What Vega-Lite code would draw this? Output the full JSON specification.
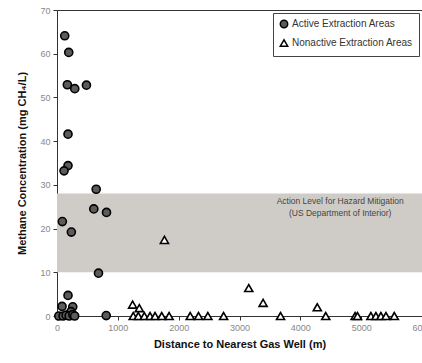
{
  "$schema": "https://vega.github.io/schema/vega-lite/v6.json",
  "width": 365,
  "height": 306,
  "autosize": {"type": "none"},
  "padding": {"left": 57, "top": 10, "right": 0, "bottom": 47},
  "background": "white",
  "config": {
    "font": "Liberation Sans",
    "view": {"stroke": "#333", "strokeWidth": 1},
    "axis": {"grid": false, "domainColor": "#333", "tickColor": "#333", "labelColor": "#888", "labelFontSize": 9, "titleFontSize": 11, "titleFontWeight": "bold", "titleColor": "#111"}
  },
  "datasets": {
    "pts": [
      {"d": 127, "c": 64.1, "t": "Active Extraction Areas"},
      {"d": 193, "c": 60.3, "t": "Active Extraction Areas"},
      {"d": 170, "c": 52.9, "t": "Active Extraction Areas"},
      {"d": 292, "c": 52.0, "t": "Active Extraction Areas"},
      {"d": 484, "c": 52.8, "t": "Active Extraction Areas"},
      {"d": 181, "c": 41.6, "t": "Active Extraction Areas"},
      {"d": 181, "c": 34.4, "t": "Active Extraction Areas"},
      {"d": 116, "c": 33.2, "t": "Active Extraction Areas"},
      {"d": 644, "c": 29.0, "t": "Active Extraction Areas"},
      {"d": 605, "c": 24.5, "t": "Active Extraction Areas"},
      {"d": 814, "c": 23.7, "t": "Active Extraction Areas"},
      {"d": 88, "c": 21.6, "t": "Active Extraction Areas"},
      {"d": 236, "c": 19.2, "t": "Active Extraction Areas"},
      {"d": 682, "c": 9.8, "t": "Active Extraction Areas"},
      {"d": 181, "c": 4.7, "t": "Active Extraction Areas"},
      {"d": 83, "c": 2.2, "t": "Active Extraction Areas"},
      {"d": 259, "c": 2.1, "t": "Active Extraction Areas"},
      {"d": 230, "c": 1.0, "t": "Active Extraction Areas"},
      {"d": 30, "c": 0, "t": "Active Extraction Areas"},
      {"d": 100, "c": 0, "t": "Active Extraction Areas"},
      {"d": 150, "c": 0.2, "t": "Active Extraction Areas"},
      {"d": 200, "c": 0, "t": "Active Extraction Areas"},
      {"d": 260, "c": 0.3, "t": "Active Extraction Areas"},
      {"d": 290, "c": 0, "t": "Active Extraction Areas"},
      {"d": 809, "c": 0.1, "t": "Active Extraction Areas"},
      {"d": 1766, "c": 17.4, "t": "Nonactive Extraction Areas"},
      {"d": 3152, "c": 6.4, "t": "Nonactive Extraction Areas"},
      {"d": 3388, "c": 3.0, "t": "Nonactive Extraction Areas"},
      {"d": 4279, "c": 2.0, "t": "Nonactive Extraction Areas"},
      {"d": 1243, "c": 2.6, "t": "Nonactive Extraction Areas"},
      {"d": 1353, "c": 1.8, "t": "Nonactive Extraction Areas"},
      {"d": 1254, "c": 0, "t": "Nonactive Extraction Areas"},
      {"d": 1337, "c": 0, "t": "Nonactive Extraction Areas"},
      {"d": 1436, "c": 0, "t": "Nonactive Extraction Areas"},
      {"d": 1530, "c": 0, "t": "Nonactive Extraction Areas"},
      {"d": 1612, "c": 0, "t": "Nonactive Extraction Areas"},
      {"d": 1722, "c": 0, "t": "Nonactive Extraction Areas"},
      {"d": 1843, "c": 0, "t": "Nonactive Extraction Areas"},
      {"d": 2190, "c": 0, "t": "Nonactive Extraction Areas"},
      {"d": 2327, "c": 0, "t": "Nonactive Extraction Areas"},
      {"d": 2480, "c": 0, "t": "Nonactive Extraction Areas"},
      {"d": 2739, "c": 0, "t": "Nonactive Extraction Areas"},
      {"d": 3675, "c": 0, "t": "Nonactive Extraction Areas"},
      {"d": 4418, "c": 0, "t": "Nonactive Extraction Areas"},
      {"d": 4901, "c": 0, "t": "Nonactive Extraction Areas"},
      {"d": 4940, "c": 0, "t": "Nonactive Extraction Areas"},
      {"d": 5160, "c": 0, "t": "Nonactive Extraction Areas"},
      {"d": 5243, "c": 0, "t": "Nonactive Extraction Areas"},
      {"d": 5325, "c": 0, "t": "Nonactive Extraction Areas"},
      {"d": 5408, "c": 0, "t": "Nonactive Extraction Areas"},
      {"d": 5545, "c": 0, "t": "Nonactive Extraction Areas"}
    ],
    "band": [{"lo": 10, "hi": 28}],
    "notes": [
      {"d": 4655, "c": 26.2, "label": "Action Level for Hazard Mitigation"},
      {"d": 4655, "c": 23.6, "label": "(US Department of Interior)"}
    ]
  },
  "layer": [
    {
      "data": {"name": "band"},
      "mark": {"type": "rect", "color": "#cfccc7"},
      "encoding": {
        "y": {"field": "lo", "type": "quantitative", "scale": {"domain": [0, 70]}},
        "y2": {"field": "hi"}
      }
    },
    {
      "data": {"name": "notes"},
      "mark": {"type": "text", "align": "center", "baseline": "middle", "fontSize": 8.5, "color": "#444"},
      "encoding": {
        "x": {"field": "d", "type": "quantitative"},
        "y": {"field": "c", "type": "quantitative"},
        "text": {"field": "label"}
      }
    },
    {
      "data": {"name": "pts"},
      "mark": {"type": "point", "filled": true, "size": 65, "opacity": 1},
      "encoding": {
        "x": {"field": "d", "type": "quantitative", "scale": {"domain": [0, 6000], "nice": false},
          "axis": {"title": "Distance to Nearest Gas Well (m)", "values": [0, 1000, 2000, 3000, 4000, 5000, 6000], "format": "d", "labelFlush": false, "tickSize": 4, "labelPadding": 3, "titlePadding": 6}},
        "y": {"field": "c", "type": "quantitative", "scale": {"domain": [0, 70], "nice": false},
          "axis": {"title": "Methane Concentration (mg CH₄/L)", "values": [0, 10, 20, 30, 40, 50, 60, 70], "tickSize": 4, "labelPadding": 3, "titlePadding": 12}},
        "stroke": {"value": "black"},
        "strokeWidth": {"value": 1.6},
        "shape": {"field": "t", "type": "nominal", "title": null, "scale": {"domain": ["Active Extraction Areas", "Nonactive Extraction Areas"], "range": ["circle", "triangle-up"]},
          "legend": {"title": null, "orient": "top-right", "offset": 3, "strokeColor": "#444", "padding": 6, "labelFontSize": 10, "labelColor": "#333", "symbolSize": 55, "rowPadding": 5, "fillColor": "white", "labelOffset": 3,
            "encode": {"symbols": {"update": {"stroke": {"value": "black"}, "strokeWidth": {"value": 1.6}, "opacity": {"value": 1}}}}}},
        "fill": {"field": "t", "type": "nominal", "title": null, "scale": {"domain": ["Active Extraction Areas", "Nonactive Extraction Areas"], "range": ["#5b5b5b", "white"]}}
      }
    }
  ]
}
